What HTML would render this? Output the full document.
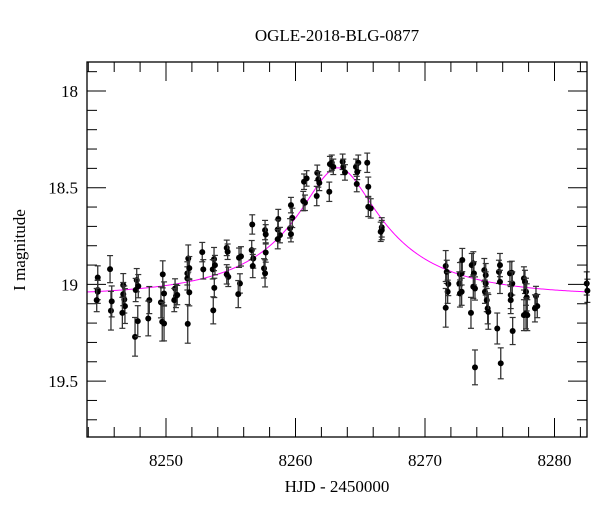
<!DOCTYPE html>
<html><head><meta charset="utf-8"><style>
html,body{margin:0;padding:0;background:#fff;}
svg{display:block;font-family:"Liberation Serif",serif;}
</style></head><body>
<svg id="chart" width="600" height="512" viewBox="0 0 600 512" xmlns="http://www.w3.org/2000/svg">
<text x="337" y="41" font-size="17" text-anchor="middle">OGLE-2018-BLG-0877</text>
<text x="337" y="492" font-size="17" text-anchor="middle">HJD - 2450000</text>
<text transform="translate(25,250) rotate(-90)" font-size="17" text-anchor="middle">I magnitude</text>
<g id="ticks"></g>
<g id="model"></g>
<g id="pts"></g>
<rect x="87" y="62" width="500" height="375" fill="none" stroke="#000" stroke-width="1.3"/>
</svg>
<script>
const hjd=[8244.73,8244.73,8244.73,8244.65,8245.68,8245.75,8245.81,8246.70,8246.70,8246.78,8246.83,8246.63,8247.61,8247.74,8247.66,8247.86,8247.82,8248.71,8248.63,8249.75,8249.61,8249.71,8249.85,8249.85,8250.70,8250.77,8250.64,8250.87,8251.72,8251.65,8251.65,8251.80,8251.80,8251.68,8252.80,8252.88,8253.71,8253.61,8253.78,8253.73,8253.65,8254.69,8254.76,8254.81,8254.69,8255.64,8255.71,8255.58,8255.79,8256.66,8256.62,8256.74,8256.70,8257.65,8257.70,8257.57,8257.65,8257.70,8258.67,8258.63,8258.80,8258.63,8259.65,8259.75,8259.58,8259.65,8260.66,8260.73,8260.86,8260.60,8261.68,8261.76,8261.64,8261.84,8262.61,8262.66,8262.80,8262.92,8263.64,8263.69,8263.82,8264.67,8264.85,8264.77,8264.73,8265.54,8265.62,8265.62,8265.81,8266.66,8266.66,8266.58,8271.60,8271.68,8271.80,8271.75,8271.60,8272.70,8272.83,8272.88,8272.65,8272.70,8272.83,8273.61,8273.73,8273.78,8273.73,8273.86,8273.55,8273.86,8274.58,8274.69,8274.69,8274.63,8274.77,8274.84,8274.89,8275.58,8275.71,8275.79,8275.79,8275.85,8276.56,8276.70,8276.74,8276.62,8276.62,8276.77,8277.64,8277.72,8277.80,8277.85,8277.64,8277.80,8277.90,8278.57,8278.67,8278.49,8282.49,8282.54];
const imag=[18.964,19.029,19.038,19.081,18.921,19.136,19.088,19.004,19.050,19.078,19.112,19.147,19.271,18.978,19.029,19.009,19.190,19.081,19.176,18.948,19.093,19.193,19.202,19.047,19.021,19.060,19.081,19.055,18.866,18.943,18.969,18.916,19.041,19.204,18.833,18.922,18.869,18.922,18.900,19.018,19.134,18.811,18.831,18.961,18.948,18.862,18.995,19.050,18.855,18.690,18.823,18.866,18.905,18.719,18.741,18.917,18.943,18.835,18.662,18.716,18.745,18.766,18.590,18.656,18.710,18.740,18.469,18.578,18.452,18.569,18.423,18.457,18.543,18.475,18.521,18.378,18.371,18.392,18.366,18.392,18.421,18.392,18.371,18.418,18.481,18.371,18.495,18.599,18.607,18.705,18.719,18.728,18.905,18.935,18.998,19.038,19.121,18.947,18.943,18.874,18.995,19.047,19.038,18.900,18.891,18.943,19.012,19.021,19.147,19.429,18.926,18.952,18.995,19.038,19.081,19.124,19.142,19.228,18.935,18.900,18.987,19.408,18.943,18.940,18.995,19.055,19.081,19.241,18.969,18.987,19.038,19.067,19.159,19.150,19.159,19.060,19.112,19.124,18.995,19.033];
const ierr=[0.06,0.05,0.06,0.06,0.07,0.1,0.08,0.06,0.06,0.07,0.09,0.08,0.1,0.06,0.06,0.06,0.08,0.07,0.09,0.07,0.08,0.1,0.09,0.06,0.05,0.06,0.06,0.05,0.07,0.06,0.06,0.06,0.07,0.1,0.05,0.05,0.06,0.05,0.05,0.05,0.07,0.04,0.04,0.05,0.05,0.05,0.05,0.07,0.05,0.05,0.05,0.05,0.06,0.05,0.05,0.05,0.07,0.05,0.05,0.05,0.04,0.05,0.04,0.05,0.05,0.04,0.04,0.04,0.04,0.05,0.04,0.04,0.05,0.04,0.05,0.04,0.04,0.04,0.04,0.04,0.04,0.04,0.04,0.04,0.04,0.05,0.05,0.05,0.05,0.05,0.05,0.05,0.08,0.06,0.06,0.06,0.1,0.06,0.06,0.06,0.06,0.07,0.07,0.06,0.06,0.06,0.06,0.06,0.08,0.09,0.06,0.06,0.06,0.06,0.06,0.08,0.09,0.08,0.06,0.06,0.06,0.08,0.06,0.06,0.06,0.07,0.07,0.07,0.06,0.06,0.07,0.07,0.08,0.08,0.08,0.05,0.06,0.07,0.06,0.06];
const xTicks=[8250,8260,8270,8280];
const yTicks=[18,18.5,19,19.5];
const modelT0=8263.3, modelTE=10, modelU0=0.27, modelFs=0.3, modelBase=19.06;

const X0=87,X1=587,Y0=62,Y1=437;
const tMin=8243.9, tMax=8282.51, mMin=17.85, mMax=19.789;
const sx=t=>X0+(t-tMin)/(tMax-tMin)*(X1-X0);
const sy=m=>Y0+(m-mMin)/(mMax-mMin)*(Y1-Y0);
const NS="http://www.w3.org/2000/svg";
function mk(tag,attrs,parent){const e=document.createElementNS(NS,tag);for(const k in attrs)e.setAttribute(k,attrs[k]);parent.appendChild(e);return e;}
const tg=document.getElementById('ticks');
for(let t=8244;t<=8282;t+=2){
  const maj=(t%10===0),L=maj?19:10,x=sx(t);
  const a=mk('line',{x1:x,y1:Y1,x2:x,y2:Y1-L,stroke:'#000','stroke-width':1},tg);
  
  
  const b=mk('line',{x1:x,y1:Y0,x2:x,y2:Y0+L,stroke:'#000','stroke-width':1},tg);
  
  
}
xTicks.forEach(t=>{
  const e=mk('text',{x:sx(t),y:466,'font-size':17,'text-anchor':'middle'},tg);
  e.textContent=String(t);
  
  
});
for(let k=179;k<=197;k++){
  const m=k/10,maj=(k%5===0),L=maj?19:10,y=sy(m);
  const a=mk('line',{x1:X0,y1:y,x2:X0+L,y2:y,stroke:'#000','stroke-width':1},tg);
  
  
  const b=mk('line',{x1:X1,y1:y,x2:X1-L,y2:y,stroke:'#000','stroke-width':1},tg);
  
  
}
yTicks.forEach(m=>{
  const e=mk('text',{x:78,y:sy(m)+6,'font-size':17,'text-anchor':'end'},tg);
  e.textContent=String(m);
  
  
});
function modelMag(t){
  const tau=(t-modelT0)/modelTE,u=Math.sqrt(modelU0*modelU0+tau*tau);
  const A=(u*u+2)/(u*Math.sqrt(u*u+4));
  return modelBase-2.5*Math.log10(modelFs*A+1-modelFs);
}
let d='';
for(let t=tMin;t<=tMax;t+=0.1){d+=(d?'L':'M')+sx(t).toFixed(2)+','+sy(modelMag(t)).toFixed(2);}
const mg=document.getElementById('model');
const p=mk('path',{d:d,fill:'none',stroke:'#ff00ff','stroke-width':1},mg);


const pg=document.getElementById('pts');
hjd.forEach((t,i)=>{
  const x=sx(t),y=sy(imag[i]),ya=sy(imag[i]-ierr[i]),yb=sy(imag[i]+ierr[i]);
  const g=mk('g',{},pg);
  
  
  mk('line',{x1:x,y1:ya,x2:x,y2:yb,stroke:'#333','stroke-width':1.3},g);
  mk('line',{x1:x-3,y1:ya,x2:x+3,y2:ya,stroke:'#333','stroke-width':1.2},g);
  mk('line',{x1:x-3,y1:yb,x2:x+3,y2:yb,stroke:'#333','stroke-width':1.2},g);
  mk('circle',{cx:x,cy:y,r:3,fill:'#000'},g);
});
</script>
</body></html>
